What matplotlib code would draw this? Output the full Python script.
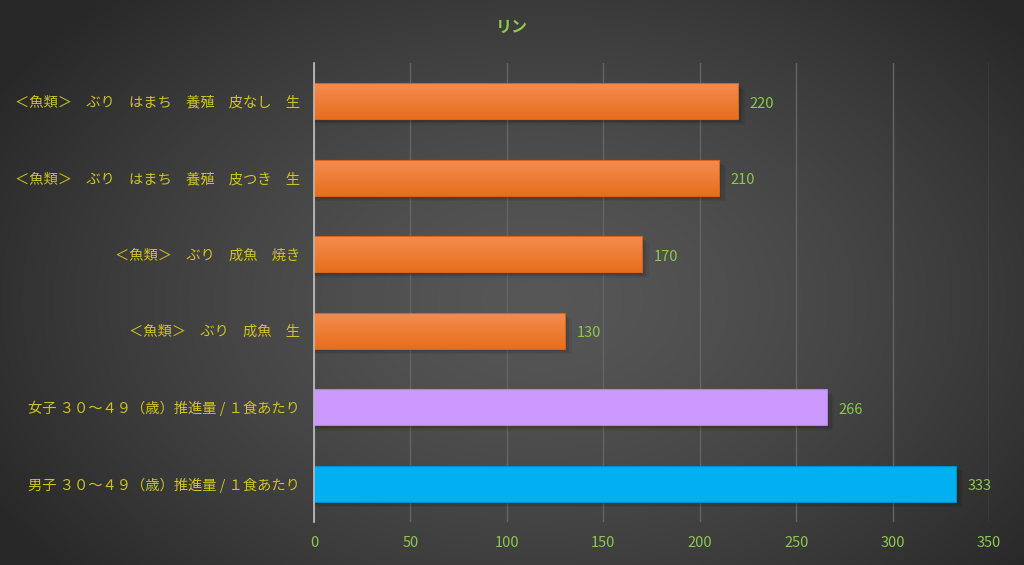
import numpy as np
import matplotlib
matplotlib.use("Agg")
import matplotlib.pyplot as plt
from matplotlib.colors import LinearSegmentedColormap

plt.rcParams['font.family'] = ['Noto Sans CJK JP', 'DejaVu Sans']

# data (bottom to top)
labels = [
    "男子 ３０～４９（歳）推進量 / １食あたり",
    "女子 ３０～４９（歳）推進量 / １食あたり",
    "＜魚類＞　ぶり　成魚　生",
    "＜魚類＞　ぶり　成魚　焼き",
    "＜魚類＞　ぶり　はまち　養殖　皮つき　生",
    "＜魚類＞　ぶり　はまち　養殖　皮なし　生",
]
values = [333, 266, 130, 170, 210, 220]
kinds = ["male", "female", "fish", "fish", "fish", "fish"]
xticks = [0, 50, 100, 150, 200, 250, 300, 350]

flat_colors = {"male": "#00b0f0", "female": "#cc99ff"}
edge_colors = {"male": "#0090c8", "female": "#b080e8", "fish": "#d8641c"}
orange_cmap = LinearSegmentedColormap.from_list("og", ["#e86e1c", "#f48c50"])

label_color = "#cec41e"
value_color = "#8cc84b"

fig = plt.figure(figsize=(10.24, 5.65), dpi=100)

# radial background gradient
bg = fig.add_axes([0, 0, 1, 1], zorder=-10)
yy, xx = np.mgrid[0:565, 0:1024]
r = np.sqrt(((xx - 540) / 620.0) ** 2 + ((yy - 300) / 420.0) ** 2)
r = np.clip(r, 0, 1)
shade = 0.34 - 0.18 * r ** 1.4
bg.imshow(np.dstack([shade, shade, shade]), aspect='auto', extent=[0, 1, 0, 1])
bg.axis('off')

ax = fig.add_axes([314 / 1024, 1 - 522 / 565, 675 / 1024, 459 / 565])
ax.patch.set_alpha(0)

y = np.arange(len(labels))
h = 0.47

for i, (v, k) in enumerate(zip(values, kinds)):
    # soft shadow
    for j, a in enumerate([0.10, 0.08, 0.06]):
        off = 0.03 + 0.02 * j
        ax.barh(y[i] - off, v + 1.2 * (j + 1), height=h, left=0, color="black",
                alpha=a, zorder=1, linewidth=0)
    if k == "fish":
        bar = ax.barh(y[i], v, height=h, color="none", edgecolor=edge_colors[k],
                      linewidth=0.8, zorder=3)[0]
        grad = np.linspace(0, 1, 64).reshape(-1, 1)
        im = ax.imshow(grad, cmap=orange_cmap, aspect='auto', origin='lower',
                       extent=[0, v, y[i] - h / 2, y[i] + h / 2], zorder=2)
        im.set_clip_path(bar)
    else:
        ax.barh(y[i], v, height=h, color=flat_colors[k], edgecolor=edge_colors[k],
                linewidth=0.8, zorder=3)
    ax.text(v + 6, y[i] - 0.03, str(v), color=value_color, fontsize=10.5,
            va='center', ha='left')

ax.set_xlim(0, 350)
ax.set_ylim(-0.5, 5.5)
ax.set_xticks(xticks)
ax.set_xticklabels([str(t) for t in xticks], color=value_color, fontsize=10.5)
ax.set_yticks(y)
ax.set_yticklabels(labels, color=label_color, fontsize=10.3)
ax.tick_params(axis='both', length=0)
ax.tick_params(axis='x', pad=10)
ax.tick_params(axis='y', pad=10)

ax.grid(axis='x', color="#646464", linewidth=1, zorder=0)
ax.set_axisbelow(True)
for s in ["top", "right", "bottom"]:
    ax.spines[s].set_visible(False)
ax.spines["left"].set_color("#c0c0c0")
ax.spines["left"].set_linewidth(1.2)
ax.spines["left"].set_zorder(5)

fig.text(512 / 1024, 1 - 27 / 565, "リン", color=value_color, fontsize=11.5,
         fontweight='bold', ha='center', va='center')

fig.savefig("out.png", dpi=100)
